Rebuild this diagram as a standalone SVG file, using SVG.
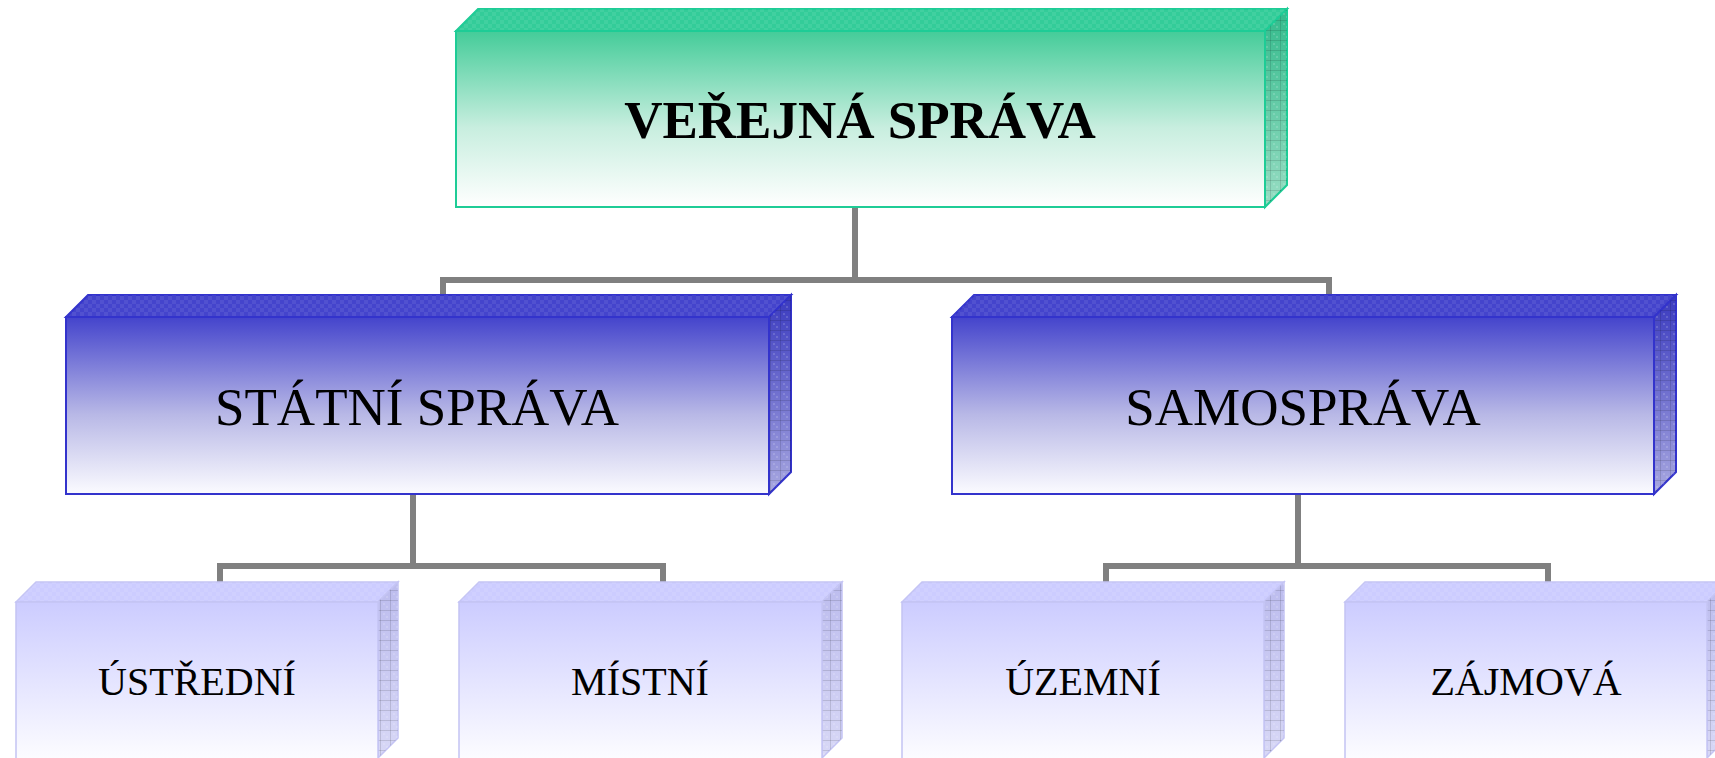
<svg xmlns="http://www.w3.org/2000/svg" width="1715" height="758" viewBox="0 0 1715 758">
  <defs>
    <linearGradient id="gTop" x1="0" y1="0" x2="0" y2="1">
      <stop offset="0" stop-color="#44cc99"/>
      <stop offset="0.55" stop-color="#c8eedf"/>
      <stop offset="1" stop-color="#ffffff"/>
    </linearGradient>
    <linearGradient id="gMid" x1="0" y1="0" x2="0" y2="1">
      <stop offset="0" stop-color="#4444cc"/>
      <stop offset="0.55" stop-color="#b8b8e6"/>
      <stop offset="1" stop-color="#fbfbff"/>
    </linearGradient>
    <linearGradient id="gLow" x1="0" y1="0" x2="0" y2="1">
      <stop offset="0" stop-color="#ccccff"/>
      <stop offset="1" stop-color="#fdfdff"/>
    </linearGradient>
    <linearGradient id="gTopSide" x1="0" y1="0" x2="0" y2="1">
      <stop offset="0" stop-color="#33bb8c"/>
      <stop offset="1" stop-color="#99ddc4"/>
    </linearGradient>
    <linearGradient id="gMidSide" x1="0" y1="0" x2="0" y2="1">
      <stop offset="0" stop-color="#3a3abf"/>
      <stop offset="1" stop-color="#a8a8e0"/>
    </linearGradient>
    <linearGradient id="gLowSide" x1="0" y1="0" x2="0" y2="1">
      <stop offset="0" stop-color="#bcbcee"/>
      <stop offset="1" stop-color="#d8d8f6"/>
    </linearGradient>
    <pattern id="grid" width="10" height="10" patternUnits="userSpaceOnUse">
      <path d="M0 0.5H10M0.5 0V10" stroke="#000" stroke-opacity="0.12" stroke-width="1" fill="none"/>
      <rect x="3" y="3" width="2" height="2" fill="#fff" fill-opacity="0.15"/>
      <rect x="6" y="6" width="2" height="2" fill="#fff" fill-opacity="0.15"/>
    </pattern>
    <pattern id="gridTop" width="8" height="8" patternUnits="userSpaceOnUse">
      <rect x="0" y="0" width="4" height="4" fill="#fff" fill-opacity="0.07"/>
      <rect x="4" y="4" width="4" height="4" fill="#fff" fill-opacity="0.07"/>
    </pattern>
  </defs>
  <style>
    .conn { stroke: #808080; stroke-width: 6; fill: none; }
    .t { font-family: "Liberation Serif", "Times New Roman", serif; fill: #000; text-anchor: middle; }
    .tb { font-weight: bold; font-size: 53px; }
    .tm { font-size: 53px; }
    .ts { font-size: 40px; }
    .eTop { stroke: #1ecc96; stroke-width: 2; }
    .eMid { stroke: #3333cc; stroke-width: 2; }
    .eLow { stroke: #c4c4f4; stroke-width: 1.5; }
  </style>

  <g id="connectors">
    <path class="conn" d="M855 207V280M443 296V280H1329V296"/>
    <path class="conn" d="M413 494V566M220 582V566H663V582"/>
    <path class="conn" d="M1298 494V566M1106 582V566H1548V582"/>
  </g>

  <g id="node-verejna-sprava">
    <polygon points="456,31 478,9 1287,9 1265,31" fill="#33cc99" class="eTop"/>
    <polygon points="456,31 478,9 1287,9 1265,31" fill="url(#gridTop)"/>
    <polygon points="1265,31 1287,9 1287,185 1265,207" fill="url(#gTopSide)" class="eTop"/>
    <polygon points="1265,31 1287,9 1287,185 1265,207" fill="url(#grid)"/>
    <rect x="456" y="31" width="809" height="176" fill="url(#gTop)" class="eTop"/>
    <text class="t tb" x="860" y="138">VEŘEJNÁ SPRÁVA</text>
  </g>

  <g id="node-statni-sprava">
    <polygon points="66,317 88,295 791,295 769,317" fill="#4444cc" class="eMid"/>
    <polygon points="66,317 88,295 791,295 769,317" fill="url(#gridTop)"/>
    <polygon points="769,317 791,295 791,472 769,494" fill="url(#gMidSide)" class="eMid"/>
    <polygon points="769,317 791,295 791,472 769,494" fill="url(#grid)"/>
    <rect x="66" y="317" width="703" height="177" fill="url(#gMid)" class="eMid"/>
    <text class="t tm" x="417" y="425">STÁTNÍ SPRÁVA</text>
  </g>

  <g id="node-samosprava">
    <polygon points="952,317 974,295 1676,295 1654,317" fill="#4444cc" class="eMid"/>
    <polygon points="952,317 974,295 1676,295 1654,317" fill="url(#gridTop)"/>
    <polygon points="1654,317 1676,295 1676,472 1654,494" fill="url(#gMidSide)" class="eMid"/>
    <polygon points="1654,317 1676,295 1676,472 1654,494" fill="url(#grid)"/>
    <rect x="952" y="317" width="702" height="177" fill="url(#gMid)" class="eMid"/>
    <text class="t tm" x="1303" y="425">SAMOSPRÁVA</text>
  </g>

  <g id="node-ustredni">
    <polygon points="16,602 36,582 398,582 378,602" fill="#ccccff" class="eLow"/>
    <polygon points="16,602 36,582 398,582 378,602" fill="url(#gridTop)"/>
    <polygon points="378,602 398,582 398,738 378,758" fill="url(#gLowSide)" class="eLow"/>
    <polygon points="378,602 398,582 398,738 378,758" fill="url(#grid)"/>
    <rect x="16" y="602" width="362" height="160" fill="url(#gLow)" class="eLow"/>
    <text class="t ts" x="197" y="695">ÚSTŘEDNÍ</text>
  </g>

  <g id="node-mistni">
    <polygon points="459,602 479,582 842,582 822,602" fill="#ccccff" class="eLow"/>
    <polygon points="459,602 479,582 842,582 822,602" fill="url(#gridTop)"/>
    <polygon points="822,602 842,582 842,738 822,758" fill="url(#gLowSide)" class="eLow"/>
    <polygon points="822,602 842,582 842,738 822,758" fill="url(#grid)"/>
    <rect x="459" y="602" width="363" height="160" fill="url(#gLow)" class="eLow"/>
    <text class="t ts" x="640" y="695">MÍSTNÍ</text>
  </g>

  <g id="node-uzemni">
    <polygon points="902,602 922,582 1284,582 1264,602" fill="#ccccff" class="eLow"/>
    <polygon points="902,602 922,582 1284,582 1264,602" fill="url(#gridTop)"/>
    <polygon points="1264,602 1284,582 1284,738 1264,758" fill="url(#gLowSide)" class="eLow"/>
    <polygon points="1264,602 1284,582 1284,738 1264,758" fill="url(#grid)"/>
    <rect x="902" y="602" width="362" height="160" fill="url(#gLow)" class="eLow"/>
    <text class="t ts" x="1083" y="695">ÚZEMNÍ</text>
  </g>

  <g id="node-zajmova">
    <polygon points="1345,602 1365,582 1727,582 1707,602" fill="#ccccff" class="eLow"/>
    <polygon points="1345,602 1365,582 1727,582 1707,602" fill="url(#gridTop)"/>
    <polygon points="1707,602 1727,582 1727,738 1707,758" fill="url(#gLowSide)" class="eLow"/>
    <polygon points="1707,602 1727,582 1727,738 1707,758" fill="url(#grid)"/>
    <rect x="1345" y="602" width="362" height="160" fill="url(#gLow)" class="eLow"/>
    <text class="t ts" x="1526" y="695">ZÁJMOVÁ</text>
  </g>
</svg>
